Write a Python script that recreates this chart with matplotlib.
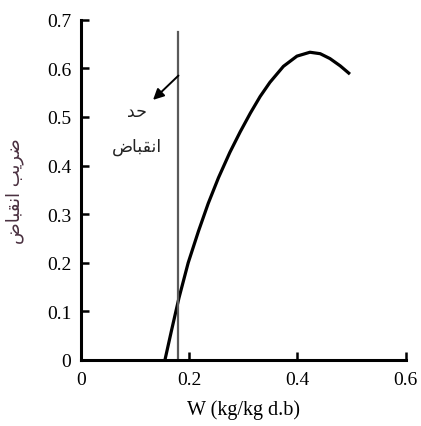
import matplotlib.pyplot as plt
import numpy as np

# curve
w = [0.155, 0.167, 0.181, 0.198, 0.217, 0.235, 0.254, 0.275, 0.294, 0.313,
     0.331, 0.349, 0.374, 0.399, 0.423, 0.442, 0.460, 0.479, 0.497]
shrink = [0.000, 0.060, 0.128, 0.200, 0.265, 0.322, 0.375, 0.427, 0.469, 0.508,
          0.542, 0.571, 0.604, 0.625, 0.633, 0.630, 0.620, 0.605, 0.588]

limit_x = 0.18
limit_top = 0.674

xticks = [0, 0.2, 0.4, 0.6]
xticklabels = ['0', '0.2', '0.4', '0.6']
yticks = [0, 0.1, 0.2, 0.3, 0.4, 0.5, 0.6, 0.7]
yticklabels = ['0', '0.1', '0.2', '0.3', '0.4', '0.5', '0.6', '0.7']

# arabic text in visual (shaped, left-to-right) order
txt_limit = '\uFEAA\uFEA3'                                   # حد
txt_shrink = '\uFEBD\uFE8E\uFE92\uFED8\uFEE7\uFE8D'          # انقباض
ylab = txt_shrink + ' ' + '\uFE90\uFEF3\uFEAE\uFEBF'         # ضريب انقباض

fams = ['Liberation Serif', 'DejaVu Sans']
plt.rcParams['font.family'] = fams

fig = plt.figure(figsize=(4.21, 4.27), dpi=100)
ax = fig.add_axes([0.1926, 0.1546, 0.771, 0.797])

ax.plot(w, shrink, 'k-', lw=2.3, solid_capstyle='butt', solid_joinstyle='round')
ax.plot([limit_x, limit_x], [0, limit_top], color='#5a5a5a', lw=1.6)

ax.annotate('', xy=(0.133, 0.535), xytext=(limit_x, 0.585),
            arrowprops=dict(arrowstyle='-|>', color='k', lw=1.4,
                            mutation_scale=16, shrinkA=0, shrinkB=0))
ax.text(0.103, 0.513, txt_limit, ha='center', va='center', fontsize=12.5,
        family=['DejaVu Sans'], color='#222222')
ax.text(0.103, 0.441, txt_shrink, ha='center', va='center', fontsize=12.5,
        family=['DejaVu Sans'], color='#222222')

ax.set_xlim(0, 0.6)
ax.set_ylim(0, 0.7)
ax.set_xticks(xticks)
ax.set_xticklabels(xticklabels)
ax.set_yticks(yticks)
ax.set_yticklabels(yticklabels)

for s in ['top', 'right']:
    ax.spines[s].set_visible(False)
for s in ['left', 'bottom']:
    ax.spines[s].set_linewidth(2.2)
ax.tick_params(direction='in', length=6, width=1.8, labelsize=14)
ax.tick_params(axis='y', pad=7)
ax.tick_params(axis='x', pad=8)

ax.set_xlabel('W (kg/kg d.b)', fontsize=14.5, labelpad=8)
ax.set_ylabel(ylab, fontsize=13, family=['DejaVu Sans'], color='#4a3040')
ax.yaxis.set_label_coords(-0.175, 0.5)

fig.savefig('out.png', dpi=100)
